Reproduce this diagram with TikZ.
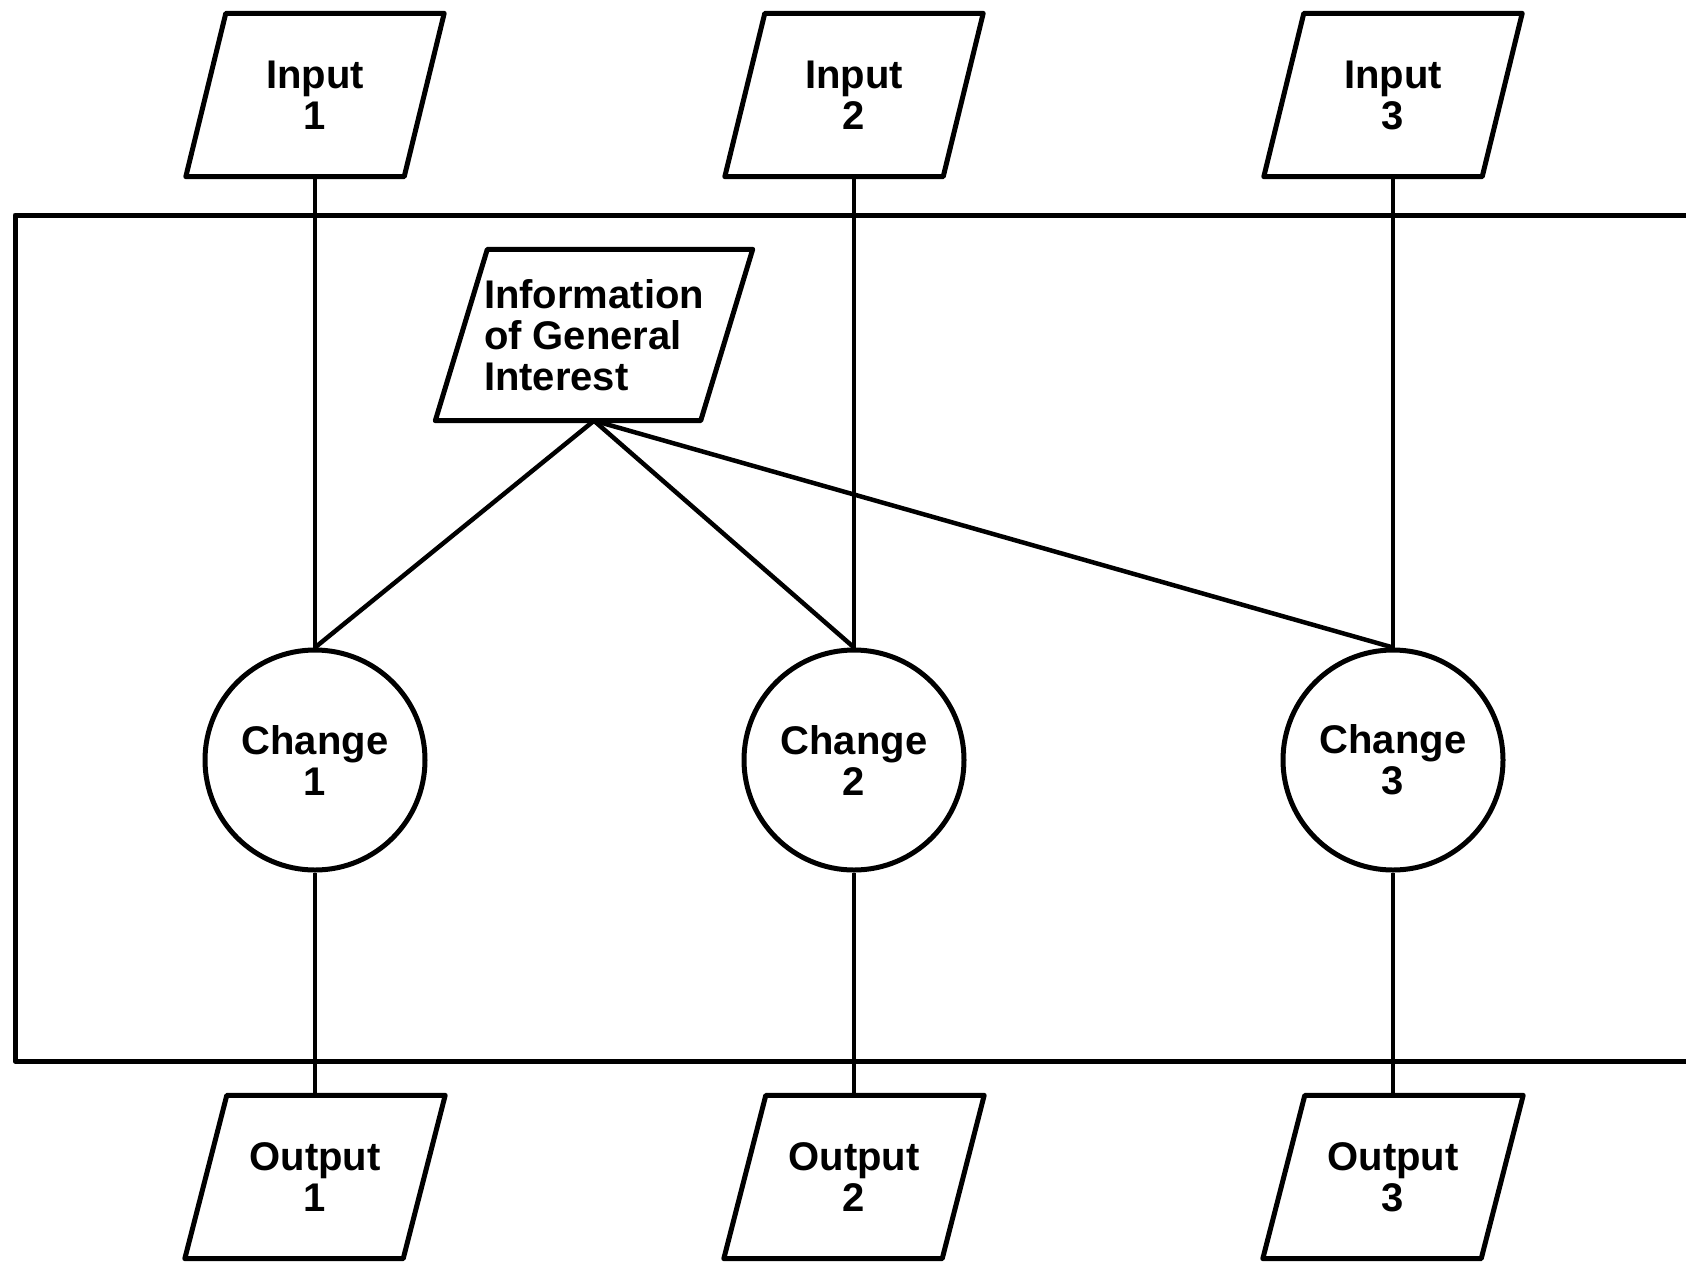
\documentclass[tikz,border=0pt]{standalone}
\usepackage{fontspec}
\setmainfont{Liberation Sans}
\begin{document}
\begin{tikzpicture}[x=1pt,y=-1pt,
  boxline/.style={line width=5pt, line join=round},
  link/.style={line width=4.5pt},
  label/.style={font=\fontsize{40}{41}\selectfont\bfseries, inner sep=0pt},
  slantbox/.style={label, rectangle, minimum width=218pt, minimum height=163pt, align=center},
  changebox/.style={label, circle, draw, line width=5pt, minimum size=220pt, align=center},
  infobox/.style={label, rectangle, minimum width=265pt, minimum height=171pt, align=left}]
\clip (0,0) rectangle (1686,1267);

% parallelogram outline around a rectangular node: top edge shifted right, bottom edge left
\newcommand\pgram[2]{%
  \draw[boxline] ([xshift=#2]#1.north west) -- ([xshift=#2]#1.north east)
    -- ([xshift=-#2]#1.south east) -- ([xshift=-#2]#1.south west) -- cycle;}

% surrounding frame, open beyond the right edge
\draw[boxline] (1700,215) -- (15,215) -- (15,1061) -- (1700,1061);

% inputs
\node[slantbox] (in1) at (315,95) {Input\\1};
\node[slantbox] (in2) at (854,95) {Input\\2};
\node[slantbox] (in3) at (1393,95) {Input\\3};
\pgram{in1}{20pt}\pgram{in2}{20pt}\pgram{in3}{20pt}

% shared information
\node[infobox] (info) at (594,335) {Information\\of General\\Interest};
\pgram{info}{26pt}
\coordinate (hub) at (info.south);

% changes
\node[changebox] (ch1) at (315,760) {Change\\1};
\node[changebox] (ch2) at (854,760) {Change\\2};
\node[changebox] (ch3) at (1393,760) {Change\\3};

% outputs
\node[slantbox] (out1) at (315,1177) {Output\\1};
\node[slantbox] (out2) at (854,1177) {Output\\2};
\node[slantbox] (out3) at (1393,1177) {Output\\3};
\pgram{out1}{21pt}\pgram{out2}{21pt}\pgram{out3}{21pt}

% connectors
\foreach \i in {1,2,3}{
  \draw[link] (in\i) -- (ch\i);
  \draw[link] (ch\i) -- (out\i);
  \draw[link] (hub) -- (ch\i.north);
}
\end{tikzpicture}
\end{document}
